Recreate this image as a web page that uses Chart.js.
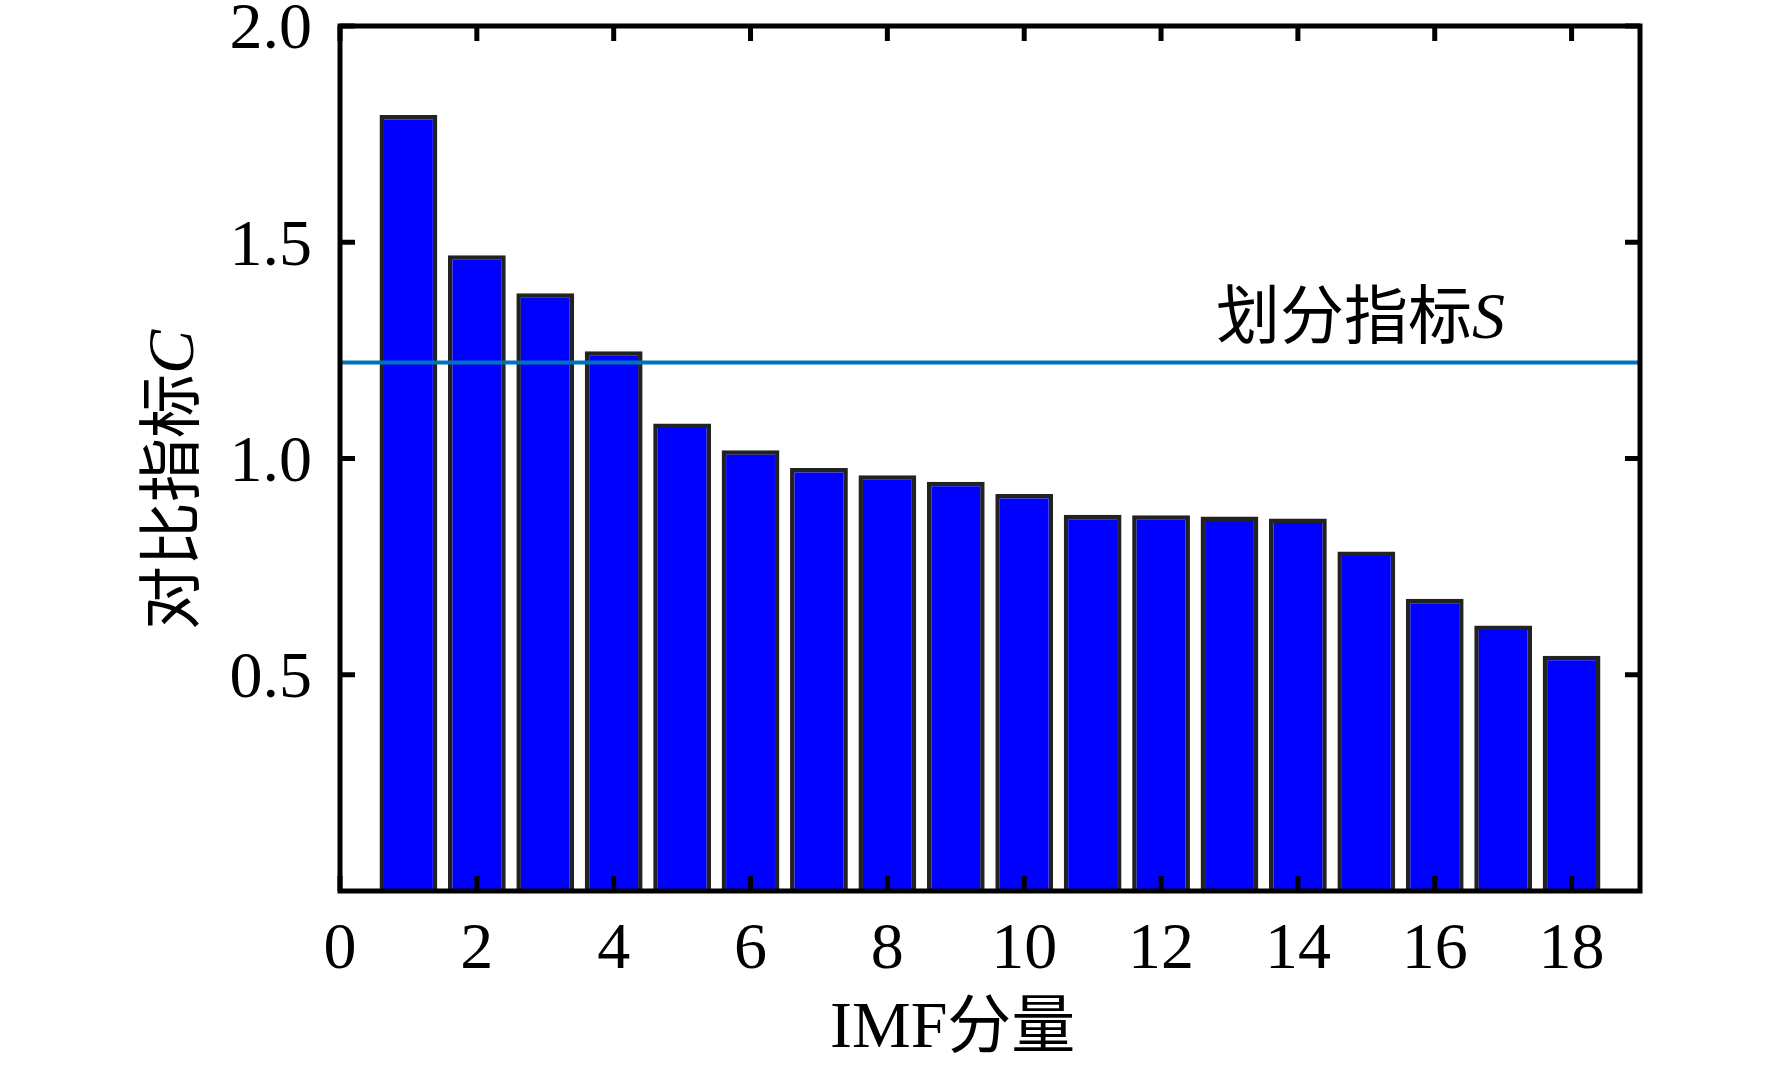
<!DOCTYPE html>
<html>
<head>
<meta charset="utf-8">
<script src="https://cdn.jsdelivr.net/npm/chart.js@4/dist/chart.umd.min.js"></script>
<style>
  html, body { margin: 0; padding: 0; background: #fff; }
  #wrap { width: 1772px; height: 1069px; position: relative; }
</style>
</head>
<body>
<div id="wrap"><canvas id="barChart"></canvas></div>
<script>
// values
const components = [1, 2, 3, 4, 5, 6, 7, 8, 9, 10, 11, 12, 13, 14, 15, 16, 17, 18];
const contrastC = [1.794, 1.470, 1.382, 1.248, 1.081, 1.019, 0.978, 0.961, 0.946,
                   0.918, 0.870, 0.869, 0.866, 0.861, 0.785, 0.676, 0.614, 0.544];
const thresholdS = 1.222;
const xTicks = [0, 2, 4, 6, 8, 10, 12, 14, 16, 18];
const yTicks = [0.5, 1.0, 1.5, 2.0];

const serif = '"Liberation Serif", "Times New Roman", serif';
const cjk = '"Noto Sans CJK SC", sans-serif';

// draw a run of mixed-font pieces starting at x, baseline y
function drawRuns(ctx, runs, x, y) {
  runs.forEach(r => {
    ctx.font = r.font;
    ctx.fillText(r.text, x, y);
    x += ctx.measureText(r.text).width;
  });
}

const framePlugin = {
  id: 'frame',
  afterDatasetsDraw(chart) {
    const ctx = chart.ctx;
    const a = chart.chartArea;
    const xs = chart.scales.x, ys = chart.scales.y;
    ctx.save();
    ctx.strokeStyle = '#000';
    // inward ticks
    ctx.lineWidth = 5;
    ctx.beginPath();
    xTicks.forEach(v => {
      const px = xs.getPixelForValue(v);
      ctx.moveTo(px, a.bottom); ctx.lineTo(px, a.bottom - 15);
      ctx.moveTo(px, a.top); ctx.lineTo(px, a.top + 15);
    });
    yTicks.forEach(v => {
      const py = ys.getPixelForValue(v);
      ctx.moveTo(a.left, py); ctx.lineTo(a.left + 15, py);
      ctx.moveTo(a.right, py); ctx.lineTo(a.right - 15, py);
    });
    ctx.stroke();
    // box
    ctx.lineWidth = 5;
    ctx.strokeRect(a.left, a.top, a.right - a.left, a.bottom - a.top);
    ctx.restore();
  },
  afterDraw(chart) {
    const ctx = chart.ctx;
    const ys = chart.scales.y;
    ctx.save();
    ctx.fillStyle = '#000';
    ctx.textAlign = 'left';
    ctx.textBaseline = 'alphabetic';

    // annotation for the threshold line
    drawRuns(ctx, [
      { text: '划分指标', font: '64px ' + cjk },
      { text: 'S', font: 'italic 66px ' + serif }
    ], 1216, ys.getPixelForValue(thresholdS) - 24);

    // x axis title
    drawRuns(ctx, [
      { text: 'IMF', font: '66px ' + serif },
      { text: '分量', font: '64px ' + cjk }
    ], 830, 1047);

    // y axis title (rotated)
    ctx.translate(193, 630);
    ctx.rotate(-Math.PI / 2);
    drawRuns(ctx, [
      { text: '对比指标', font: '64px ' + cjk },
      { text: 'C', font: 'italic 66px ' + serif }
    ], 0, 0);
    ctx.restore();
  }
};

const ctx = document.getElementById('barChart').getContext('2d');
new Chart(ctx, {
  data: {
    datasets: [
      {
        type: 'line',
        data: [{ x: 0, y: thresholdS }, { x: 19, y: thresholdS }],
        borderColor: '#0072BD',
        borderWidth: 4,
        pointRadius: 0,
        order: 0
      },
      {
        type: 'bar',
        data: components.map((c, i) => ({ x: c, y: contrastC[i] })),
        backgroundColor: '#0000FF',
        borderColor: '#222222',
        borderWidth: 4.5,
        barPercentage: 0.845,
        categoryPercentage: 1,
        order: 1
      }
    ]
  },
  options: {
    responsive: true,
    maintainAspectRatio: false,
    animation: false,
    layout: { padding: { left: 0, right: 132, top: 26, bottom: 0 } },
    scales: {
      x: {
        type: 'linear',
        min: 0,
        max: 19,
        offset: false,
        grid: { display: false, drawTicks: false },
        border: { display: false },
        afterBuildTicks: s => { s.ticks = xTicks.map(v => ({ value: v })); },
        afterFit: s => { s.height = 178; s.paddingLeft = 0; s.paddingRight = 0; },
        ticks: {
          color: '#000',
          padding: 20,
          maxRotation: 0,
          font: { family: serif, size: 66 },
          callback: v => String(v)
        }
      },
      y: {
        type: 'linear',
        min: 0,
        max: 2,
        grid: { display: false, drawTicks: false },
        border: { display: false },
        afterBuildTicks: s => { s.ticks = yTicks.map(v => ({ value: v })); },
        afterFit: s => { s.width = 340; s.paddingTop = 0; s.paddingBottom = 0; },
        ticks: {
          color: '#000',
          padding: 28,
          labelOffset: 5,
          font: { family: serif, size: 66 },
          callback: v => v.toFixed(1)
        }
      }
    },
    plugins: {
      legend: { display: false },
      tooltip: { enabled: false }
    }
  },
  plugins: [framePlugin]
});
</script>
</body>
</html>
